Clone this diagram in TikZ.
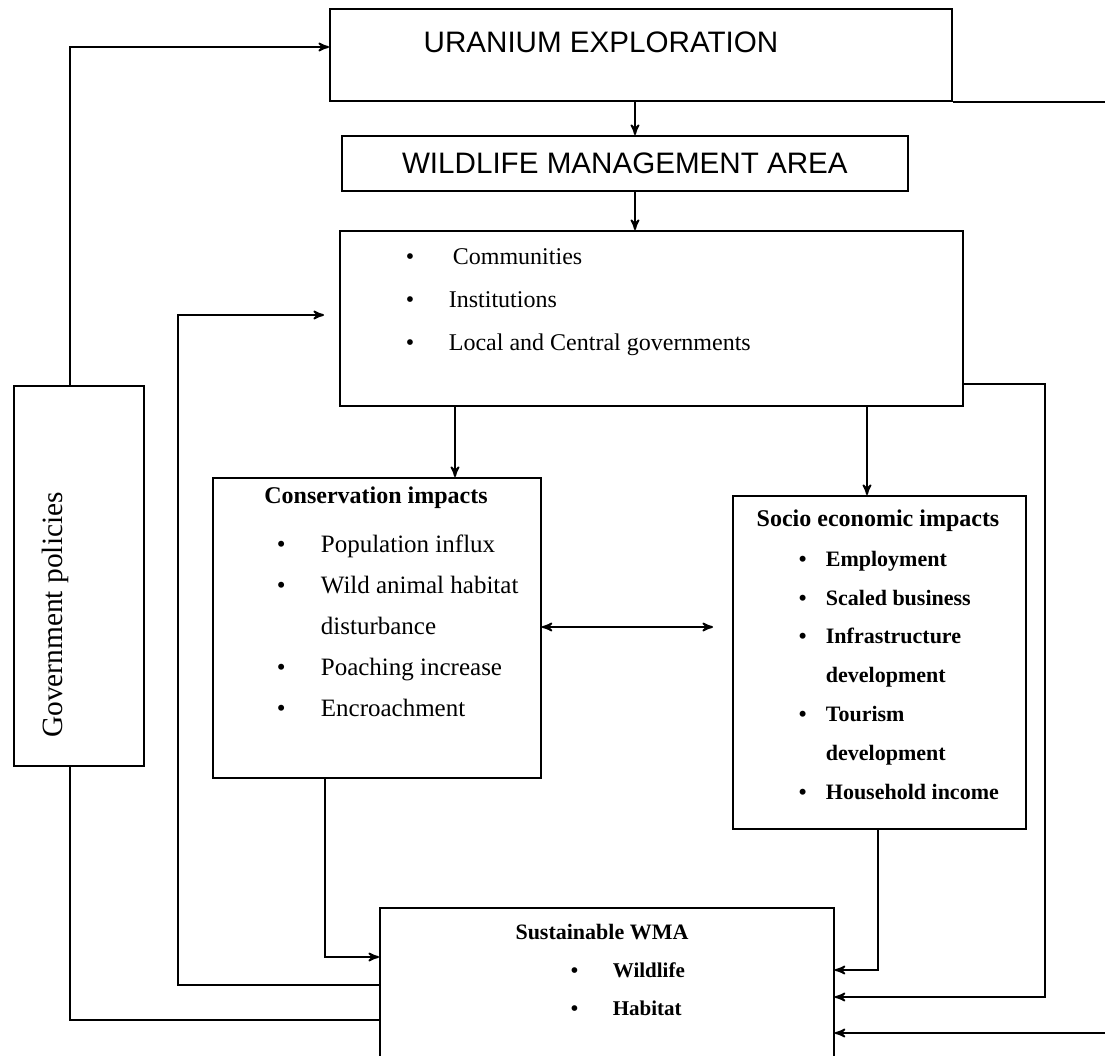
\documentclass[tikz,border=0pt]{standalone}
\usepackage{fontspec}
\setmainfont{Liberation Serif}
\newfontfamily\headfont{Liberation Sans}
\usepackage{tikz}
\usetikzlibrary{arrows,positioning}

\begin{document}
\begin{tikzpicture}[->,>=stealth',x=0.5pt,y=-0.5pt,line width=0.9pt]
  \tikzstyle{box}=[draw,rectangle,anchor=north west,inner sep=0pt]
  % lists are placed at the baseline of their last line
  \tikzstyle{list}=[anchor=base west,align=left,inner sep=0pt]
  \tikzstyle{caps}=[font=\headfont\fontsize{14.8}{17}\selectfont]

  \useasboundingbox (0,0) rectangle (1105,1056);

  % boxes
  \node[box,minimum width=311pt,minimum height=46pt] (uran) at (329,8) {};
  \node[caps] (uranlbl) at (601,42) {URANIUM EXPLORATION};
  \node[box,caps,minimum width=283pt,minimum height=27.5pt] (wma) at (341,135)
    {WILDLIFE MANAGEMENT AREA};
  \node[box,minimum width=311.5pt,minimum height=87.5pt] (com) at (339,230) {};
  \node[list,font=\fontsize{12}{21.5}\selectfont] (comlst) at (405,350)
    {\makebox[21.5pt][l]{\textbullet}\,Communities\\
     \makebox[21.5pt][l]{\textbullet}Institutions\\
     \makebox[21.5pt][l]{\textbullet}Local and Central governments};

  \node[box,minimum width=164pt,minimum height=150pt] (cons) at (212,477) {};
  \node[anchor=base,font=\bfseries\fontsize{12}{14}\selectfont] (conshd) at (376,503)
    {Conservation impacts};
  \node[list,font=\fontsize{12.5}{20.5}\selectfont] (conslst) at (276,716)
    {\makebox[22pt][l]{\textbullet}Population influx\\
     \makebox[22pt][l]{\textbullet}Wild animal habitat\\
     \hspace*{22pt}disturbance\\
     \makebox[22pt][l]{\textbullet}Poaching increase\\
     \makebox[22pt][l]{\textbullet}Encroachment};

  \node[box,minimum width=146.5pt,minimum height=166.5pt] (soc) at (732,495) {};
  \node[anchor=base,font=\bfseries\fontsize{12}{14}\selectfont] (sochd) at (878,526)
    {Socio economic impacts};
  \node[list,font=\bfseries\fontsize{11}{19.4}\selectfont] (soclst) at (798,799)
    {\makebox[13.5pt][l]{\textbullet}Employment\\
     \makebox[13.5pt][l]{\textbullet}Scaled business\\
     \makebox[13.5pt][l]{\textbullet}Infrastructure\\
     \hspace*{13.5pt}development\\
     \makebox[13.5pt][l]{\textbullet}Tourism\\
     \hspace*{13.5pt}development\\
     \makebox[13.5pt][l]{\textbullet}Household income};

  \node[box,minimum width=227pt,minimum height=86.5pt] (sus) at (379,907) {};
  \node[anchor=base,font=\bfseries\fontsize{11}{13}\selectfont] (sushd) at (602,939)
    {Sustainable WMA};
  \node[list,font=\bfseries\fontsize{10.5}{19}\selectfont] (suslst) at (570,1015)
    {\makebox[21pt][l]{\textbullet}Wildlife\\
     \makebox[21pt][l]{\textbullet}Habitat};

  \node[box,minimum width=65pt,minimum height=190pt] (gov) at (13,385) {};
  \node[rotate=90,font=\fontsize{14.7}{17}\selectfont] (govlbl) at (55,615)
    {Government policies};

  % bend points
  \coordinate (xg) at (70,0);
  \coordinate (yg) at (0,47);
  \coordinate (xw) at (635,0);
  \coordinate (xc) at (455,0);
  \coordinate (xs) at (867,0);
  \coordinate (xsb) at (878,0);
  \coordinate (xcb) at (325,0);
  \coordinate (yc) at (0,957);
  \coordinate (ys) at (0,970);
  \coordinate (yd) at (0,627);
  \coordinate (yb) at (0,1020);
  \coordinate (l1) at (178,985);
  \coordinate (l2) at (178,315);
  \coordinate (r1) at (1045,384);
  \coordinate (r2) at (1045,997);
  \coordinate (u2) at (1120,1033);

  % connectors
  \draw (gov.north -| xg) |- (uran.west |- yg);
  \draw[-] (gov.south -| xg) |- (sus.west |- yb);
  \draw (uran.south -| xw) -- (wma.north -| xw);
  \draw (wma.south -| xw) -- (com.north -| xw);
  \draw (com.south -| xc) -- (cons.north -| xc);
  \draw (com.south -| xs) -- (soc.north -| xs);
  \draw[<->,shorten >=9.5pt] (cons.east |- yd) -- (soc.west |- yd);
  \draw (cons.south -| xcb) |- (sus.west |- yc);
  \draw (soc.south -| xsb) |- (sus.east |- ys);
  \draw[shorten >=7.5pt] (sus.west |- l1) -- (l1) -- (l2) -- (com.west |- l2);
  \draw (com.east |- r1) -- (r1) -- (r2) -- (sus.east |- r2);
  \draw (uran.south east) -| (u2) -- (sus.east |- u2);
\end{tikzpicture}
\end{document}
